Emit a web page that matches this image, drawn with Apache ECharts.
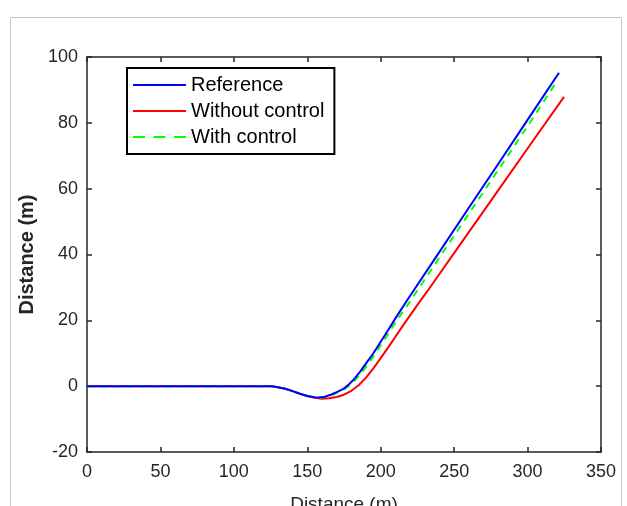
<!DOCTYPE html>
<html>
<head>
<meta charset="utf-8">
<script src="https://cdn.jsdelivr.net/npm/echarts@6/dist/echarts.min.js"></script>
<style>
html,body{margin:0;padding:0;background:#fff;}
#chart{width:627px;height:506px;}
</style>
</head>
<body>
<div id="chart"></div>
<script>
// Data: [distance x (m), distance y (m)]
const referenceData = [[0,0],[120,0],[126,0],[130,-0.3],[135,-0.8],[140,-1.5],[145,-2.3],[150,-3.0],[155,-3.4],[158,-3.45],[162,-3.2],[166,-2.6],[170,-1.8],[174,-1.0],[178,0.4],[182,2.2],[186,4.4],[190,6.9],[195,10.0],[200,13.5],[205,17.0],[210,20.6],[218,26.1],[240,40.8],[260,54.2],[280,67.5],[300,80.9],[321.4,95.2]];
const withoutControlData = [[0,0],[120,0],[126,0],[130,-0.3],[135,-0.8],[140,-1.5],[145,-2.3],[150,-3.0],[155,-3.5],[160,-3.85],[165,-3.7],[170,-3.3],[175,-2.6],[180,-1.4],[185,0.3],[190,2.6],[195,5.4],[200,8.5],[205,11.7],[210,15.0],[215,18.3],[220,21.5],[225,24.7],[232,29.0],[260,46.8],[280,59.5],[300,72.2],[324.8,87.9]];
const withControlData = [[0,0],[120,0],[126,0],[130,-0.3],[135,-0.8],[140,-1.5],[145,-2.3],[150,-3.0],[155,-3.4],[159,-3.5],[163,-3.3],[167,-2.7],[171,-1.9],[175,-1.0],[179,0.3],[183,2.0],[187,4.1],[191,6.5],[196,9.7],[201,13.1],[206,16.5],[211,20.0],[220,25.8],[240,39.1],[260,52.4],[280,65.7],[300,79.0],[319.9,92.6]];
const seriesNames = ['Reference','Without control','With control'];
const xTicks = {min:0, max:350, interval:50};
const yTicks = {min:-20, max:100, interval:20};
const xName = 'Distance (m)';
const yName = 'Distance (m)';

const font = 'Liberation Sans, Arial, sans-serif';
const axisColor = '#262626';
const solidIcon = 'path://M0,0h53v2h-53z';
const dashIcon = 'path://M0,0h12v2h-12z M20.5,0h12v2h-12z M41,0h12v2h-12z';
const chart = echarts.init(document.getElementById('chart'), null, {renderer:'canvas'});
const baseAxis = {
  axisLine:{show:true, onZero:false, lineStyle:{color:axisColor, width:1.5}},
  axisTick:{show:true, inside:true, length:5, lineStyle:{color:axisColor, width:1.5}},
  splitLine:{show:false}
};
chart.setOption({
  animation:false,
  backgroundColor:'#fff',
  graphic:[{type:'rect', shape:{x:10.5, y:17.5, width:611, height:520}, style:{fill:'none', stroke:'#c8c8c8', lineWidth:1}, z:-10}],
  grid:{left:87, top:57, right:26, bottom:54, containLabel:false, outerBoundsMode:'none'},
  legend:{
    left:127, top:68, orient:'vertical',
    data:[
      {name:seriesNames[0], icon:solidIcon},
      {name:seriesNames[1], icon:solidIcon},
      {name:seriesNames[2], icon:dashIcon}
    ],
    itemWidth:53, itemHeight:2, itemGap:6,
    padding:[7,10,7,6],
    borderColor:'#000', borderWidth:2, backgroundColor:'#fff',
    textStyle:{fontFamily:font, fontSize:20, color:'#000', padding:[0,0,0,0], lineHeight:20}
  },
  xAxis:[
    Object.assign({}, baseAxis, {type:'value', position:'bottom', min:xTicks.min, max:xTicks.max, interval:xTicks.interval,
      axisLabel:{fontFamily:font, fontSize:18, color:axisColor, margin:11},
      name:xName, nameLocation:'middle', nameGap:43, nameTextStyle:{fontFamily:font, fontSize:19, color:axisColor}}),
    Object.assign({}, baseAxis, {type:'value', position:'top', min:xTicks.min, max:xTicks.max, interval:xTicks.interval, axisLabel:{show:false}})
  ],
  yAxis:[
    Object.assign({}, baseAxis, {type:'value', position:'left', min:yTicks.min, max:yTicks.max, interval:yTicks.interval,
      axisLabel:{fontFamily:font, fontSize:18, color:axisColor, margin:9},
      name:yName, nameLocation:'middle', nameGap:49, nameTextStyle:{fontFamily:font, fontSize:20, fontWeight:'bold', color:axisColor}}),
    Object.assign({}, baseAxis, {type:'value', position:'right', min:yTicks.min, max:yTicks.max, interval:yTicks.interval, axisLabel:{show:false}})
  ],
  series:[
    {name:seriesNames[1], type:'line', data:withoutControlData, symbol:'none', smooth:false, z:2,
      lineStyle:{color:'#ff0000', width:2}, itemStyle:{color:'#ff0000'}},
    {name:seriesNames[2], type:'line', data:withControlData, symbol:'none', smooth:false, z:3,
      lineStyle:{color:'#00ff00', width:2, type:[7,6]}, itemStyle:{color:'#00ff00'}},
    {name:seriesNames[0], type:'line', data:referenceData, symbol:'none', smooth:false, z:4,
      lineStyle:{color:'#0000ff', width:2}, itemStyle:{color:'#0000ff'}}
  ]
});
</script>
</body>
</html>
